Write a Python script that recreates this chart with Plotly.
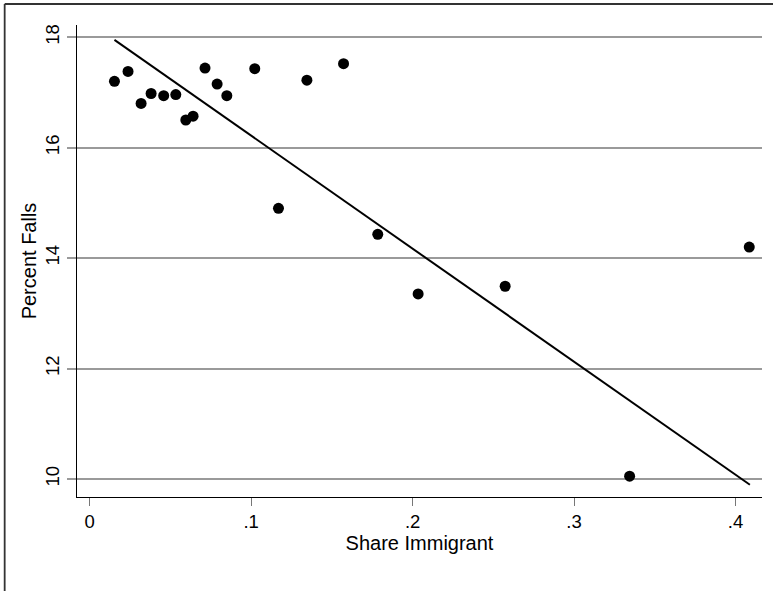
import plotly.graph_objects as go

share_immigrant = [0.0153, 0.0237, 0.0318, 0.0380, 0.0458, 0.0533, 0.0595, 0.0640, 0.0714, 0.0789,
                   0.0849, 0.1022, 0.1169, 0.1345, 0.1572, 0.1784, 0.2034, 0.2573, 0.3344, 0.4085]
percent_falls = [17.20, 17.38, 16.80, 16.98, 16.94, 16.96, 16.50, 16.57, 17.44, 17.15,
                 16.94, 17.43, 14.90, 17.22, 17.52, 14.43, 13.35, 13.49, 10.05, 14.20]

fit_x = [0.0153, 0.4089]
fit_y = [17.95, 9.895]

x_ticks = [0, 0.1, 0.2, 0.3, 0.4]
x_tick_labels = ["0", ".1", ".2", ".3", ".4"]
y_ticks = [10, 12, 14, 16, 18]
y_tick_labels = ["10", "12", "14", "16", "18"]

FONT = "Liberation Sans, Arial, sans-serif"

fig = go.Figure()
fig.add_trace(go.Scatter(x=share_immigrant, y=percent_falls, mode="markers",
                         marker=dict(color="black", size=11, line=dict(width=0)),
                         showlegend=False, hoverinfo="x+y"))
fig.add_trace(go.Scatter(x=fit_x, y=fit_y, mode="lines",
                         line=dict(color="black", width=2), showlegend=False))

W, H = 773, 591
ml, mr, mt, mb = 77.3, 11, 25, 94
pw, ph = W - ml - mr, H - mt - mb

fig.update_layout(
    width=W, height=H,
    margin=dict(l=ml, r=mr, t=mt, b=mb, pad=0),
    paper_bgcolor="white", plot_bgcolor="white",
    font=dict(family=FONT, color="black", size=18),
    xaxis=dict(range=[-0.0079, 0.4164], tickvals=x_ticks, ticktext=x_tick_labels,
               showgrid=False, zeroline=False, showline=True, linecolor="black", linewidth=1.3,
               ticks="outside", ticklen=8, tickwidth=1.3, tickcolor="#777",
               tickfont=dict(size=18.5, family=FONT),
               title=dict(text="Share Immigrant", font=dict(size=20, family=FONT), standoff=0)),
    yaxis=dict(range=[9.674, 18.22], tickvals=y_ticks, ticktext=y_tick_labels,
               showgrid=True, gridcolor="#9a9a9a", gridwidth=1.6, zeroline=False,
               showline=True, linecolor="black", linewidth=1.3,
               ticks="outside", ticklen=9, tickwidth=1.6, tickcolor="#9a9a9a",
               tickangle=-90, tickfont=dict(size=18.5, family=FONT),
               title=dict(text="Percent Falls", font=dict(size=20, family=FONT), standoff=0)),
)

# outer frame lines (top and left) at image edges
fig.add_shape(type="line", xref="paper", yref="paper",
              x0=(5 - ml) / pw, x1=(W - ml) / pw, y0=1 + (mt - 4) / ph, y1=1 + (mt - 4) / ph,
              line=dict(color="#333", width=1.8))
fig.add_shape(type="line", xref="paper", yref="paper",
              x0=(5 - ml) / pw, x1=(5 - ml) / pw, y0=1 + (mt - 4) / ph, y1=-(mb) / ph,
              line=dict(color="#333", width=1.8))

fig.write_html("out.html", config={"displayModeBar": False},
               post_script="document.body.style.margin='0';document.body.style.overflow='hidden';")
